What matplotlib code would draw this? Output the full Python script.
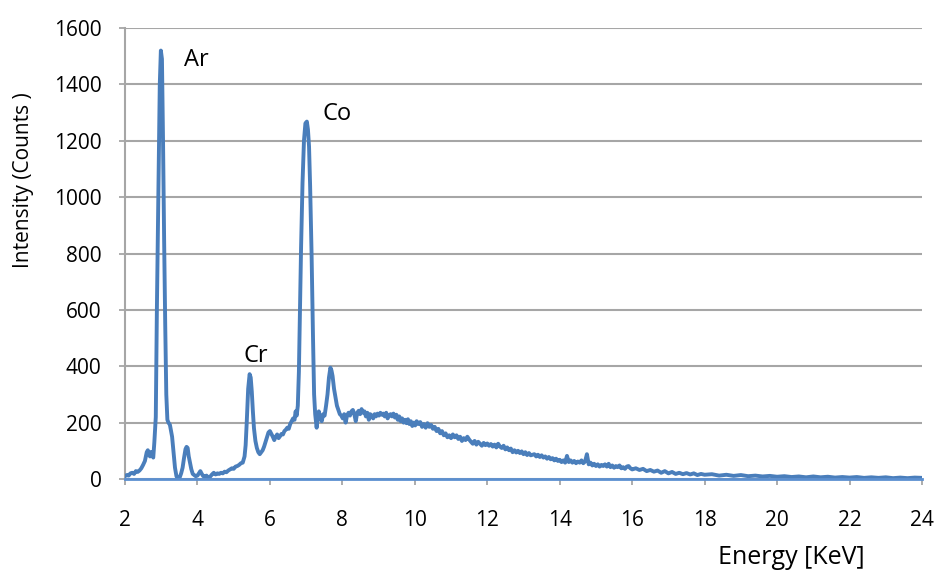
import matplotlib
matplotlib.use("Agg")
import matplotlib.pyplot as plt

# EDX spectrum: energy (keV) and counts
energy_kev = [
    2.00, 2.05, 2.10, 2.15, 2.20, 2.25, 2.30, 2.35, 2.40, 2.45, 2.50, 2.55, 2.60, 2.63, 2.66, 2.69, 2.72, 2.75, 2.78, 2.81,
    2.85, 2.88, 2.92, 2.96, 2.99, 3.02, 3.05, 3.08, 3.11, 3.14, 3.17, 3.20, 3.24, 3.27, 3.30, 3.34, 3.38, 3.42, 3.46, 3.50,
    3.55, 3.59, 3.63, 3.67, 3.70, 3.73, 3.76, 3.79, 3.83, 3.87, 3.91, 3.95, 4.00, 4.04, 4.08, 4.12, 4.16, 4.20, 4.25, 4.30,
    4.35, 4.40, 4.45, 4.50, 4.55, 4.60, 4.65, 4.70, 4.75, 4.80, 4.85, 4.90, 4.95, 5.00, 5.05, 5.10, 5.15, 5.20, 5.25, 5.30,
    5.33, 5.36, 5.40, 5.44, 5.47, 5.50, 5.53, 5.56, 5.60, 5.64, 5.68, 5.72, 5.76, 5.80, 5.84, 5.88, 5.92, 5.96, 6.00, 6.04,
    6.08, 6.12, 6.16, 6.20, 6.24, 6.28, 6.32, 6.36, 6.40, 6.44, 6.48, 6.52, 6.56, 6.60, 6.64, 6.68, 6.71, 6.74,
    6.77, 6.80, 6.83, 6.86, 6.90, 6.94, 6.98, 7.02, 7.05, 7.08, 7.11, 7.15, 7.19, 7.22, 7.25, 7.29, 7.32, 7.35, 7.39, 7.43,
    7.47, 7.51, 7.55, 7.59, 7.63, 7.67, 7.70, 7.73, 7.77, 7.81, 7.85, 7.89, 7.93, 7.97, 8.01, 8.05, 8.09, 8.13, 8.17, 8.21,
    8.25, 8.29, 8.33, 8.37, 8.41, 8.45, 8.49, 8.53, 8.57, 8.61, 8.65, 8.69, 8.73, 8.77, 8.81, 8.85, 8.89, 8.93, 8.97, 9.01,
    9.05, 9.09, 9.13, 9.17, 9.21, 9.25, 9.29, 9.33, 9.37, 9.41, 9.45, 9.49, 9.53, 9.57, 9.61, 9.65, 9.69, 9.73, 9.77, 9.81,
    9.85, 9.89, 9.93, 9.97, 10.01, 10.05, 10.10, 10.15, 10.20, 10.25, 10.30, 10.35, 10.40, 10.45, 10.50, 10.55, 10.60, 10.65,
    10.70, 10.75, 10.80, 10.85, 10.90, 10.95, 11.00, 11.05, 11.10, 11.15, 11.20, 11.25, 11.30, 11.35, 11.40, 11.45, 11.50,
    11.55, 11.60, 11.65, 11.70, 11.75, 11.80, 11.85, 11.90, 11.95, 12.00, 12.05, 12.10, 12.15, 12.20, 12.25, 12.30, 12.35,
    12.40, 12.45, 12.50, 12.55, 12.60, 12.65, 12.70, 12.75, 12.80, 12.85, 12.90, 12.95, 13.00, 13.05, 13.10, 13.15, 13.20,
    13.30, 13.35, 13.40, 13.45, 13.50, 13.55, 13.60, 13.65, 13.70, 13.75, 13.80, 13.85, 13.90, 13.95, 14.00, 14.05, 14.10,
    14.15, 14.20, 14.25, 14.30, 14.35, 14.40, 14.45, 14.50, 14.55, 14.60, 14.65, 14.70, 14.75, 14.80, 14.85, 14.90, 14.95,
    15.00, 15.05, 15.10, 15.15, 15.20, 15.25, 15.30, 15.35, 15.40, 15.45, 15.50, 15.55, 15.60, 15.65, 15.70, 15.75, 15.80,
    15.85, 15.90, 15.95, 16.00, 16.10, 16.20, 16.30, 16.40, 16.50, 16.60, 16.70, 16.80, 16.90, 17.00, 17.10, 17.20, 17.30,
    17.40, 17.50, 17.60, 17.70, 17.80, 17.90, 18.00, 18.20, 18.40, 18.60, 18.80, 19.00, 19.20, 19.40, 19.60, 19.80, 20.00,
    20.20, 20.40, 20.60, 20.80, 21.00, 21.20, 21.40, 21.60, 21.80, 22.00, 22.20, 22.40, 22.60, 22.80, 23.00, 23.20, 23.40,
    23.60, 23.80, 24.00,
]
counts = [
    10, 14, 12, 20, 22, 18, 28, 25, 30, 38, 50, 64, 95, 102, 88, 80, 96, 86, 76, 130,
    220, 600, 1000, 1400, 1520, 1490, 1200, 850, 550, 300, 210, 200, 192, 170, 150, 95, 40, 10, 0, 2,
    20, 40, 75, 106, 114, 110, 80, 60, 35, 18, 14, 10, 12, 20, 28, 18, 10, 8, 12, 4,
    8, 16, 22, 16, 20, 18, 22, 20, 26, 24, 30, 34, 38, 36, 44, 46, 50, 56, 58, 80,
    120, 200, 320, 372, 360, 310, 240, 180, 135, 110, 95, 88, 95, 102, 115, 132, 150, 165, 170, 160,
    150, 138, 150, 158, 145, 152, 160, 158, 170, 175, 182, 178, 195, 205, 215, 210, 240, 225,
    260, 380, 600, 820, 1050, 1200, 1262, 1268, 1240, 1180, 1040, 800, 500, 300, 230, 182, 220, 240, 215, 205,
    230, 225, 260, 300, 360, 395, 385, 365, 320, 290, 260, 245, 230, 225, 215, 230, 200, 225, 235, 225,
    240, 245, 230, 205, 235, 242, 230, 248, 235, 240, 222, 235, 210, 230, 225, 215, 230, 222, 232, 225,
    235, 228, 232, 222, 235, 215, 225, 230, 222, 232, 218, 228, 210, 222, 205, 215, 200, 210, 198, 212,
    195, 205, 188, 200, 190, 205, 195, 202, 185, 195, 182, 198, 185, 192, 178, 185, 170, 178,
    162, 170, 155, 162, 148, 155, 145, 158, 148, 155, 142, 150, 135, 145, 138, 150, 140,
    132, 125, 135, 122, 132, 125, 118, 128, 120, 126, 118, 124, 115, 122, 112, 125, 115,
    110, 118, 105, 112, 102, 108, 95, 102, 94, 100, 92, 98, 88, 95, 85, 92, 84,
    88, 80, 86, 78, 84, 76, 80, 72, 78, 70, 74, 66, 72, 64, 68, 60, 66,
    58, 82, 60, 66, 58, 64, 56, 62, 58, 66, 56, 62, 88, 52, 58, 48, 54,
    46, 52, 44, 50, 46, 52, 44, 54, 42, 48, 40, 46, 42, 48, 38, 42, 36,
    44, 46, 38, 34, 38, 32, 36, 28, 32, 26, 30, 22, 28, 20, 25, 18, 22,
    17, 21, 16, 20, 14, 18, 15, 17, 12, 15, 11, 14, 10, 12, 9, 11, 8,
    10, 7, 9, 6, 9, 6, 8, 5, 7, 5, 7, 4, 6, 4, 6, 3, 5,
    3, 5, 4,
]
peak_names = ["Ar", "Cr", "Co"]
x_ticks = list(range(2, 25, 2))
y_ticks = list(range(0, 1601, 200))

plt.rcParams["font.family"] = ["Open Sans", "DejaVu Sans"]

fig = plt.figure(figsize=(9.37, 5.72), dpi=100)
ax = fig.add_axes([0.1334, 0.1626, 0.8506, 0.7884])

ax.plot(energy_kev, counts, color="#4a7ebb", lw=2.8, solid_joinstyle="round", zorder=3)

ax.set_xlim(2, 24)
ax.set_ylim(0, 1600)
ax.set_xticks(x_ticks)
ax.set_yticks(y_ticks)
ax.yaxis.grid(True, color="#a6a6a6", lw=1.5)
ax.set_axisbelow(True)

for s in ["top", "right"]:
    ax.spines[s].set_visible(False)
ax.spines["left"].set_color("#a6a6a6")
ax.spines["left"].set_linewidth(1.5)
ax.spines["bottom"].set_color("#5b8fd0")
ax.spines["bottom"].set_linewidth(2)
ax.spines["bottom"].set_zorder(4)
ax.tick_params(axis="y", length=4, width=1.3, color="#a6a6a6", labelsize=15, pad=13)
ax.tick_params(axis="x", length=4.5, width=1.3, color="#a6a6a6", labelsize=15, pad=18)

# y label sits above the axis middle, as in the original
ax.set_ylabel("Intensity (Counts )", fontsize=15)
ax.yaxis.set_label_coords(-0.114, 0.663)
fig.text(791 / 937, 1 - 558 / 572, "Energy [KeV]", fontsize=18, ha="center", va="center")

# peak labels
ax.text(3.62, 1486, peak_names[0], fontsize=17, va="center")
ax.text(5.28, 436, peak_names[1], fontsize=17, va="center")
ax.text(7.44, 1295, peak_names[2], fontsize=17, va="center")

fig.savefig("out.png", dpi=100)
